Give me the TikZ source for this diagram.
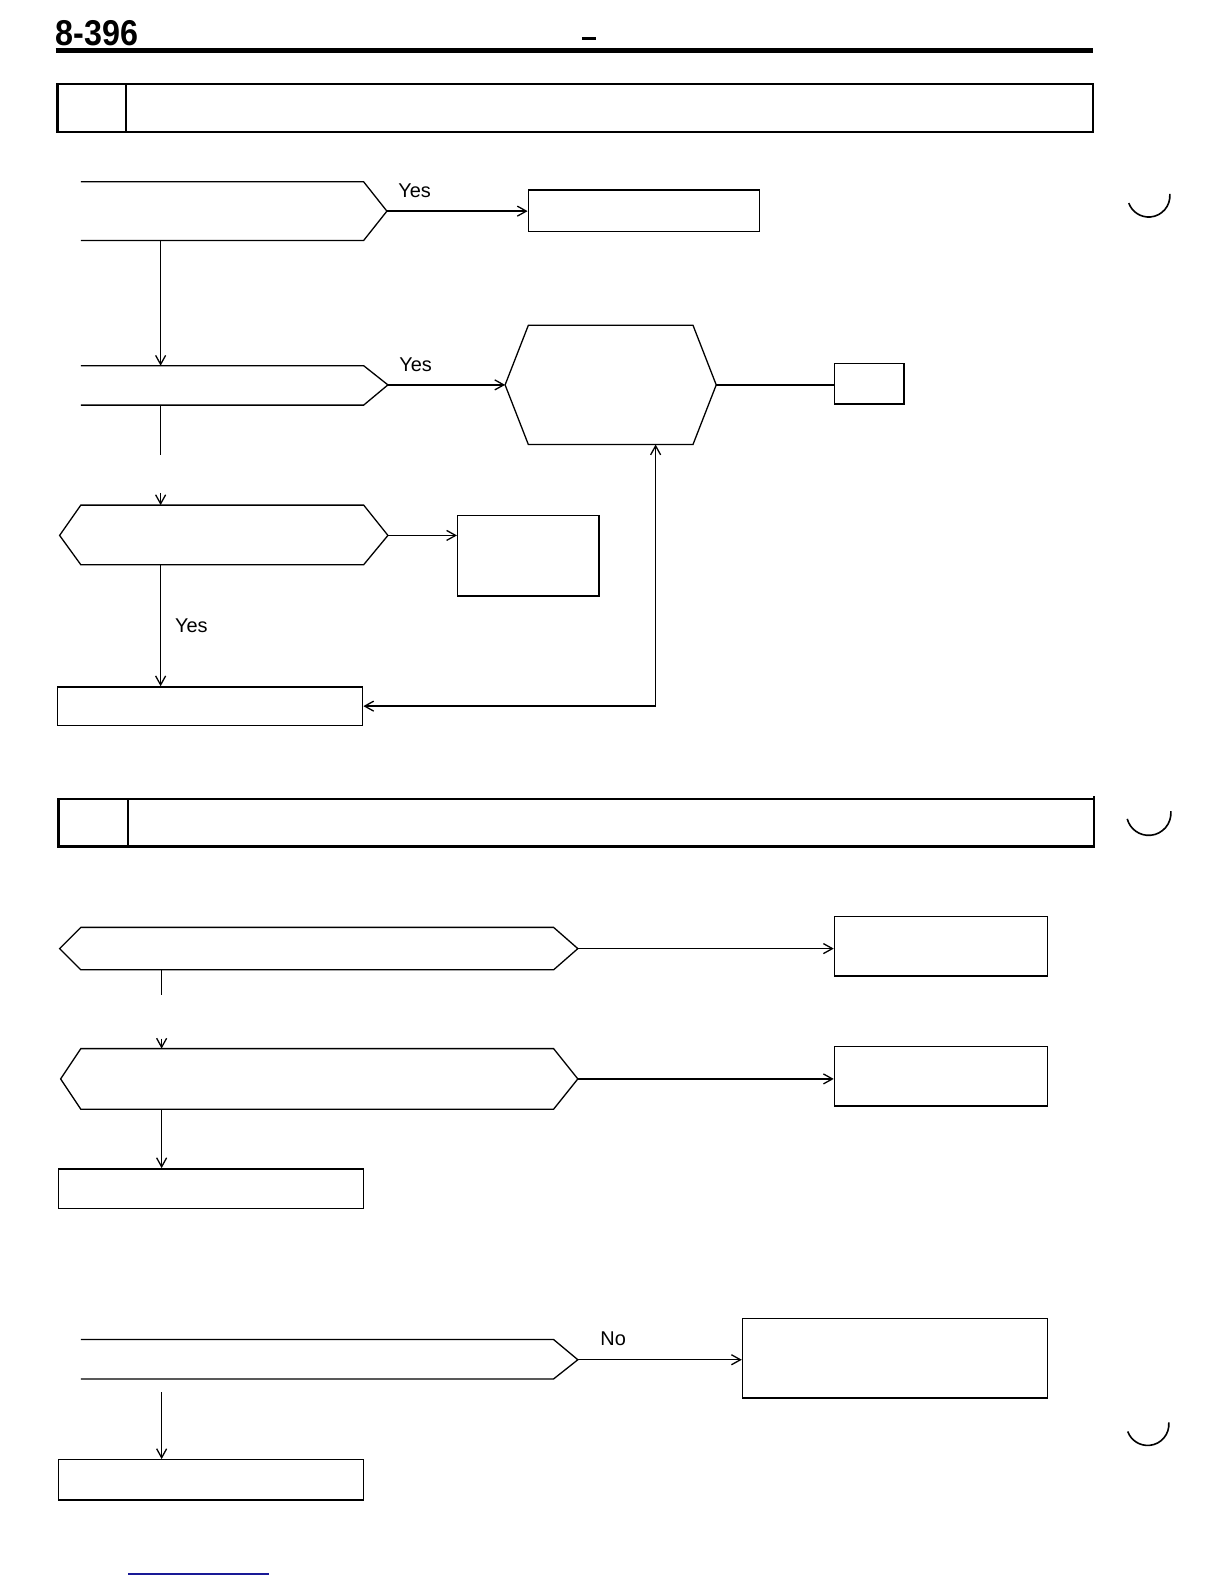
\documentclass[tikz,border=0pt]{standalone}
\usepackage{fontspec}
\newfontfamily\labfont{Liberation Sans}
\usetikzlibrary{arrows.meta,fit}
\definecolor{inkblue}{RGB}{25,25,150}
\tikzset{
  ln/.style={line width=0.65bp, line join=miter},
  arr/.style={ln,-{Straight Barb[length=4.5bp,width=5bp]}},
  boxst/.style={draw, line width=0.7bp, inner sep=0pt},
  hdr/.style={line width=1.1bp},
  lab/.style={font=\labfont\fontsize{10}{12}\selectfont, inner sep=0pt, anchor=base west},
}
\begin{document}
\begin{tikzpicture}[x=0.505bp,y=-0.505bp]
\useasboundingbox (0,0) rectangle (1212,1568);
% page header
\node[anchor=base west, inner sep=0pt, xscale=0.9, font=\labfont\bfseries\fontsize{18}{20}\selectfont] (pageno) at (55,45) {8-396};
\draw[line width=1.3bp] (576,38) -- (590,38);
\draw[line width=2.2bp] (55,50) -- (1082,50);
% header box 1
\node[boxst, hdr, fit={(57,83)(1082,131)}] (hb1) {};
\draw[hdr] (125,83) -- (125,131);
% binder marks
\draw[line width=0.8bp] (1158,192) arc[start angle=-5, end angle=160, radius=21];
\draw[line width=0.8bp] (1159,803) arc[start angle=-5, end angle=165, radius=22];
\draw[line width=0.8bp] (1157,1408) arc[start angle=-5, end angle=160, radius=21];

% ---- section 1 ----
\draw[ln] (80,180) -- (360,180) -- (383,209) -- (360,238) -- (80,238);
\coordinate (d1r) at (383,209);
\coordinate (d1b) at (159,238);
\node[boxst, fit={(523,188)(752,229)}] (b1) {};
\draw[arr] (d1r) -- (d1r -| b1.west);
\node[lab] (y1) at (394,195) {Yes};

\draw[ln] (80,362) -- (360,362) -- (384,381) -- (360,401) -- (80,401);
\coordinate (d2t) at (159,362);
\coordinate (d2r) at (384,381);
\coordinate (d2b) at (159,401);
\draw[arr] (d1b) -- (d2t);
\node[lab] (y2) at (395,368) {Yes};

\draw[ln] (523,322) -- (686,322) -- (709,381) -- (686,440) -- (523,440) -- (500,381) -- cycle;
\coordinate (hl) at (500,381);
\coordinate (hr) at (709,381);
\coordinate (hbot) at (649,440);
\draw[arr] (d2r) -- (hl);
\node[boxst, fit={(826,360)(895,400)}] (s1) {};
\draw[ln] (hr) -- (hr -| s1.west);

\draw[ln] (80,500) -- (360,500) -- (384,530) -- (360,559) -- (80,559) -- (59,530) -- cycle;
\coordinate (d3t) at (159,500);
\coordinate (d3r) at (384,530);
\coordinate (d3b) at (159,559);
\coordinate (g1a) at (159,450);
\coordinate (g1b) at (159,488);
\draw[ln] (d2b) -- (g1a);
\draw[arr] (g1b) -- (d3t);
\node[boxst, fit={(453,510)(593,590)}] (b3) {};
\draw[arr] (d3r) -- (d3r -| b3.west);

\node[boxst, fit={(57,680)(359,718)}] (b4) {};
\draw[arr] (d3b) -- (b4.north -| d3b);
\node[lab] (y3) at (173,626) {Yes};
\coordinate (j1) at (649,699);
\draw[arr] (j1) -- (hbot);
\draw[arr] (j1) -- (j1 -| b4.east);

% header box 2
\node[boxst, hdr, fit={(58,791)(1083,838)}] (hb2) {};
\draw[hdr] (127,791) -- (127,838);
\draw[hdr] (1083,788) -- (1083,791);

% ---- section 2 ----
\draw[ln] (80,918) -- (548,918) -- (572,939) -- (548,960) -- (80,960) -- (59,939) -- cycle;
\coordinate (d4r) at (572,939);
\coordinate (d4b) at (160,960);
\node[boxst, fit={(826,907)(1037,966)}] (b5) {};
\draw[arr] (d4r) -- (d4r -| b5.west);

\draw[ln] (80,1038) -- (548,1038) -- (572,1068) -- (548,1098) -- (80,1098) -- (60,1068) -- cycle;
\coordinate (d5t) at (160,1038);
\coordinate (d5r) at (572,1068);
\coordinate (d5b) at (160,1098);
\coordinate (g2a) at (160,985);
\coordinate (g2b) at (160,1028);
\draw[ln] (d4b) -- (g2a);
\draw[arr] (g2b) -- (d5t);
\node[boxst, fit={(826,1036)(1037,1095)}] (b6) {};
\draw[arr] (d5r) -- (d5r -| b6.west);

\node[boxst, fit={(58,1157)(360,1196)}] (b7) {};
\draw[arr] (d5b) -- (b7.north -| d5b);

\draw[ln] (80,1326) -- (548,1326) -- (572,1346) -- (548,1365) -- (80,1365);
\coordinate (d6r) at (572,1346);
\coordinate (g3) at (160,1378);
\node[boxst, fit={(735,1305)(1037,1384)}] (b8) {};
\draw[arr] (d6r) -- (d6r -| b8.west);
\node[lab] (n1) at (594,1332) {No};

\node[boxst, fit={(58,1445)(360,1485)}] (b9) {};
\draw[arr] (g3) -- (b9.north -| g3);

% bottom blue rule
\draw[inkblue, line width=0.8bp] (127,1558) -- (266,1558);
\end{tikzpicture}
\end{document}
